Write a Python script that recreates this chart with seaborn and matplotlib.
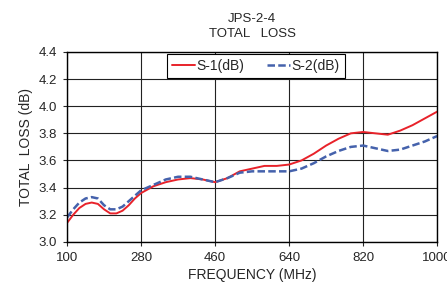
import numpy as np
import pandas as pd
import seaborn as sns
from matplotlib import pyplot as plt

# frequency points (MHz)
freq = [100, 115, 130, 145, 160, 175, 190, 205, 220, 235, 250, 265, 280, 310, 340, 370,
        400, 430, 460, 490, 520, 550, 580, 610, 640, 670, 700, 730, 760, 790, 820, 850,
        880, 910, 940, 970, 1000]

# S-1 total loss (dB)
s1 = [3.14, 3.20, 3.25, 3.28, 3.29, 3.28, 3.24, 3.21, 3.21, 3.23, 3.27, 3.32, 3.36, 3.41, 3.44, 3.46,
      3.47, 3.46, 3.44, 3.47, 3.52, 3.54, 3.56, 3.56, 3.57, 3.60, 3.65, 3.71, 3.76, 3.80, 3.81, 3.80,
      3.79, 3.82, 3.86, 3.91, 3.96]

# S-2 total loss (dB)
s2 = [3.18, 3.24, 3.29, 3.32, 3.33, 3.32, 3.27, 3.24, 3.24, 3.26, 3.30, 3.34, 3.38, 3.42, 3.46, 3.48,
      3.48, 3.46, 3.44, 3.47, 3.51, 3.52, 3.52, 3.52, 3.52, 3.54, 3.58, 3.63, 3.67, 3.70, 3.71, 3.69,
      3.67, 3.68, 3.71, 3.74, 3.78]

x_ticks = [100, 280, 460, 640, 820, 1000]
y_ticks = [3.0, 3.2, 3.4, 3.6, 3.8, 4.0, 4.2, 4.4]

sns.set_style("ticks")
plt.rcParams['font.family'] = ['Liberation Sans', 'DejaVu Sans']

df = pd.DataFrame({"freq": freq, "S-1(dB)": s1, "S-2(dB)": s2})

fig = plt.figure(figsize=(4.47, 2.95), dpi=100)
ax = fig.add_axes([0.150, 0.180, 0.828, 0.644])

sns.lineplot(data=df, x="freq", y="S-1(dB)", ax=ax, color="#E8222A", linewidth=1.4,
             label="S-1(dB)")
sns.lineplot(data=df, x="freq", y="S-2(dB)", ax=ax, color="#4562AC", linewidth=1.8,
             label="S-2(dB)")
ax.lines[1].set_dashes((3.0, 1.3))

ax.set_xlim(100, 1000)
ax.set_ylim(3.0, 4.4)
ax.set_xticks(x_ticks)
ax.set_yticks(y_ticks)
ax.set_yticklabels([f"{v:.1f}" for v in y_ticks])
ax.grid(True, color="#222222", linewidth=0.8)
for s in ax.spines.values():
    s.set_color("black")
    s.set_linewidth(1.0)
ax.tick_params(axis="both", direction="out", length=3, width=0.8, labelsize=9.5, pad=4)

ax.set_xlabel("FREQUENCY (MHz)", fontsize=10, labelpad=3)
ax.set_ylabel("TOTAL  LOSS (dB)", fontsize=10, labelpad=4)
ax.set_title("JPS-2-4\nTOTAL   LOSS", fontsize=9.5, linespacing=1.25, pad=11)

leg = ax.legend(loc="upper center", bbox_to_anchor=(0.51, 0.988), ncol=2, frameon=True,
                fancybox=False, edgecolor="black", fontsize=10, handlelength=1.65,
                handletextpad=0.15, columnspacing=1.6, borderpad=0.35, borderaxespad=0.0)
leg.get_frame().set_linewidth(0.8)
leg.get_frame().set_alpha(1)

fig.savefig("out.png", dpi=100)
